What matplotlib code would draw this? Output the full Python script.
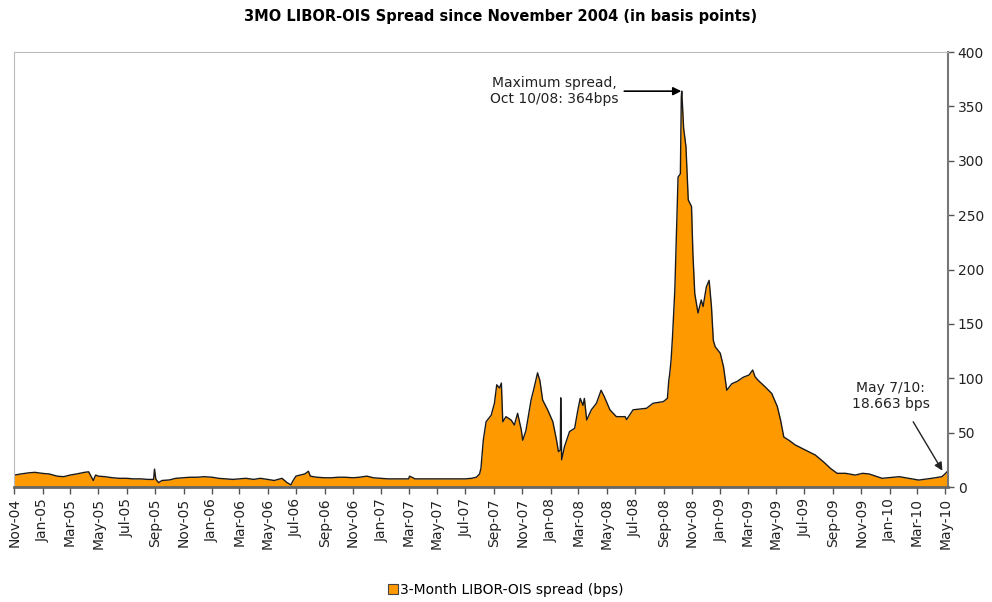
import pandas as pd
import matplotlib
matplotlib.use("Agg")
import matplotlib.pyplot as plt
import matplotlib.dates as mdates
from matplotlib.patches import Patch

# Spread readings (bps)
dates = [
    "2004-11-01", "2004-11-15", "2004-12-01", "2004-12-15", "2005-01-01", "2005-01-15",
    "2005-02-01", "2005-02-15", "2005-03-01", "2005-03-15", "2005-04-01", "2005-04-10",
    "2005-04-20", "2005-04-25", "2005-05-01", "2005-05-15", "2005-06-01", "2005-06-15",
    "2005-07-01", "2005-07-15", "2005-08-01", "2005-08-15", "2005-08-28", "2005-08-30",
    "2005-09-02", "2005-09-08", "2005-09-15", "2005-10-01", "2005-10-15", "2005-11-01",
    "2005-11-15", "2005-12-01", "2005-12-15", "2006-01-01", "2006-01-15", "2006-02-01",
    "2006-02-15", "2006-03-01", "2006-03-15", "2006-04-01", "2006-04-15", "2006-05-01",
    "2006-05-15", "2006-06-01", "2006-06-12", "2006-06-20", "2006-06-25", "2006-07-01",
    "2006-07-10", "2006-07-20", "2006-07-28", "2006-08-01", "2006-08-15", "2006-09-01",
    "2006-09-15", "2006-10-01", "2006-10-15", "2006-11-01", "2006-11-15", "2006-12-01",
    "2006-12-15", "2007-01-01", "2007-01-15", "2007-02-01", "2007-02-15", "2007-03-01",
    "2007-03-03", "2007-03-15", "2007-04-01", "2007-04-15", "2007-05-01", "2007-05-15",
    "2007-06-01", "2007-06-15", "2007-07-01", "2007-07-15", "2007-07-25", "2007-08-01",
    "2007-08-04", "2007-08-09", "2007-08-15", "2007-08-26", "2007-09-02", "2007-09-07",
    "2007-09-13", "2007-09-17", "2007-09-20", "2007-09-27", "2007-10-08", "2007-10-15",
    "2007-10-22", "2007-10-30", "2007-11-02", "2007-11-09", "2007-11-20", "2007-11-27",
    "2007-12-04", "2007-12-09", "2007-12-15", "2007-12-26", "2008-01-06", "2008-01-14",
    "2008-01-18", "2008-01-22", "2008-01-23", "2008-01-25", "2008-01-31", "2008-02-11",
    "2008-02-22", "2008-02-29", "2008-03-05", "2008-03-11", "2008-03-14", "2008-03-19",
    "2008-03-29", "2008-04-09", "2008-04-19", "2008-04-26", "2008-05-08", "2008-05-22",
    "2008-06-10", "2008-06-13", "2008-06-27", "2008-07-26", "2008-08-09", "2008-08-31",
    "2008-09-09", "2008-09-12", "2008-09-14", "2008-09-17", "2008-09-20", "2008-09-25",
    "2008-09-29", "2008-10-02", "2008-10-07", "2008-10-09", "2008-10-10", "2008-10-14",
    "2008-10-19", "2008-10-24", "2008-10-31", "2008-11-03", "2008-11-07", "2008-11-14",
    "2008-11-21", "2008-11-25", "2008-12-02", "2008-12-08", "2008-12-13", "2008-12-17",
    "2008-12-21", "2009-01-01", "2009-01-08", "2009-01-15", "2009-01-26", "2009-02-06",
    "2009-02-20", "2009-03-04", "2009-03-12", "2009-03-17", "2009-03-24", "2009-04-08",
    "2009-04-22", "2009-05-04", "2009-05-11", "2009-05-18", "2009-05-29", "2009-06-12",
    "2009-06-26", "2009-07-11", "2009-07-25", "2009-08-12", "2009-08-27", "2009-09-10",
    "2009-09-28", "2009-10-19", "2009-11-04", "2009-11-18", "2009-12-16", "2010-01-22",
    "2010-03-05", "2010-04-02", "2010-04-24", "2010-05-02", "2010-05-07",
]
spread = [
    11, 12, 13, 13.5, 12.5, 12,
    10, 9.5, 11, 12, 13.5, 14,
    6, 11, 10, 9.5, 8.5, 8,
    8, 7.5, 7.5, 7, 7, 16.5,
    7, 4, 6, 6.5, 8, 8.5,
    9, 9, 9.5, 9, 8, 7.5,
    7, 7.5, 8, 7, 8, 7,
    6, 8, 4, 2, 6, 10,
    11, 12, 14.5, 10, 9, 8.5,
    8.5, 9, 9, 8.5, 9, 10,
    8.5, 8, 7.5, 7.5, 7.5, 7.5,
    10, 7.5, 7.5, 7.5, 7.5, 7.5,
    7.5, 7.5, 7.5, 8, 9, 12,
    17.5, 43, 60, 66, 77, 94,
    91, 95.6, 60, 64.7, 61.6, 57,
    67.8, 52.4, 43, 52, 80, 92,
    105, 98, 80, 70.8, 60, 43,
    32.5, 34, 82, 25, 37, 51,
    54, 71, 81.5, 75, 81.5, 61.6,
    71, 77, 89, 83, 71, 64.7,
    64.7, 62, 71, 72.4, 77, 78.5,
    81.5, 98, 104, 117, 138, 181,
    242, 285, 288, 359, 364, 330,
    313, 264, 258, 215, 178, 160,
    172, 166, 184, 190, 166, 135,
    129, 123, 110.6, 89, 95, 97,
    101, 103, 107.6, 101.4, 98, 92,
    86, 74, 61.6, 46, 43, 38.6,
    35.6, 32.5, 29.4, 23, 17, 12.6,
    12.6, 11, 12.6, 12, 8, 9.5,
    6.4, 8, 9.5, 12.6, 15,
]

x = pd.to_datetime(dates)

fig = plt.figure(figsize=(9.92, 6.02), dpi=100)
ax = fig.add_axes([0.0141, 0.191, 0.9415, 0.7226])

orange = "#FF9900"
ax.fill_between(x, spread, 0, color=orange, linewidth=0)
ax.plot(x, spread, color="#1a1a1a", linewidth=1.0)

ax.set_ylim(0, 400)
ax.set_xlim(pd.Timestamp("2004-10-31"), pd.Timestamp("2010-05-07"))

# right-hand y axis
ax.yaxis.tick_right()
ax.set_yticks(range(0, 401, 50))
ax.tick_params(axis="y", direction="out", length=4, width=1, colors="#555555",
               labelcolor="#222222", labelsize=10, pad=3)

# x axis: every two months, rotated labels
ax.xaxis.set_major_locator(mdates.MonthLocator(bymonth=[1, 3, 5, 7, 9, 11]))
ax.xaxis.set_major_formatter(mdates.DateFormatter("%b-%y"))
ax.tick_params(axis="x", direction="out", length=5, width=1, colors="#555555",
               labelcolor="#222222", labelsize=10, pad=3, labelrotation=90)

ax.spines["left"].set_color("#bbbbbb")
ax.spines["top"].set_color("#bbbbbb")
ax.spines["right"].set_color("#777777")
ax.spines["right"].set_linewidth(1.5)
ax.spines["bottom"].set_color("#666666")
ax.spines["bottom"].set_linewidth(2)

fig.text(0.505, 0.972, "3MO LIBOR-OIS Spread since November 2004 (in basis points)",
         ha="center", va="center", fontsize=10.5, fontweight="bold")

# annotations
ax.text(pd.Timestamp("2008-01-10"), 364, "Maximum spread,\nOct 10/08: 364bps",
        ha="center", va="center", fontsize=10, color="#222222")
ax.annotate("", xy=(pd.Timestamp("2008-10-09"), 364),
            xytext=(pd.Timestamp("2008-06-08"), 364),
            arrowprops=dict(arrowstyle="-|>", color="black", lw=1.2,
                            shrinkA=0, shrinkB=0, mutation_scale=12))

ax.text(pd.Timestamp("2010-01-03"), 84, "May 7/10:\n18.663 bps",
        ha="center", va="center", fontsize=10, color="#222222")
ax.annotate("", xy=(pd.Timestamp("2010-04-25"), 15),
            xytext=(pd.Timestamp("2010-02-21"), 60),
            arrowprops=dict(arrowstyle="-|>", color="#222222", lw=1.0,
                            shrinkA=0, shrinkB=0, mutation_scale=12))

handle = Patch(facecolor=orange, edgecolor="#444444", linewidth=0.8)
fig.legend([handle], ["3-Month LIBOR-OIS spread (bps)"], loc="center",
           bbox_to_anchor=(0.51, 0.02), frameon=False, fontsize=10,
           handlelength=0.7, handleheight=0.7, handletextpad=0.2)

fig.savefig("out.png", dpi=100)
